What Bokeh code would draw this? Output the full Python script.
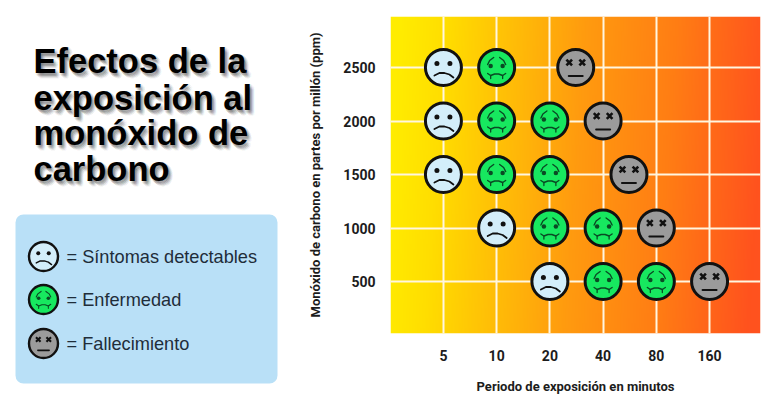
import numpy as np
from bokeh.embed import file_html
from bokeh.layouts import row
from bokeh.models import BoxAnnotation, FixedTicker
from bokeh.plotting import figure
from bokeh.resources import INLINE
from bokeh.core.properties import value

# ---------- data ----------
title_lines = ["Efectos de la", "exposición al", "monóxido de", "carbono"]
legend_labels = ["= Síntomas detectables", "= Enfermedad", "= Fallecimiento"]
x_ticks = [5, 10, 20, 40, 80, 160]
y_ticks = [500, 1000, 1500, 2000, 2500]
x_title = "Periodo de exposición en minutos"
y_title = "Monóxido de carbono en partes por millón (ppm)"

sad_minutes = [5, 5, 5, 10, 20]
sad_ppm = [2500, 2000, 1500, 1000, 500]
sick_minutes = [10, 10, 20, 10, 20, 20, 40, 40, 80]
sick_ppm = [2500, 2000, 2000, 1500, 1500, 1000, 1000, 500, 500]
dead_minutes = [28, 40, 56, 80, 160]
dead_ppm = [2500, 2000, 1500, 1000, 500]

SAD, SICK, DEAD = "#d3eefa", "#17e85f", "#9b9b9b"
INK = "#111111"
TICK_FONT = "Roboto"


def draw_faces(fig, xs, ys, kind, mapx, mapy, size=36.0):
    """Draw faces centred on data points; feature offsets are screen pixels."""
    k = size / 36.0
    fill = {"sad": SAD, "sick": SICK, "dead": DEAD}[kind]
    fig.scatter(xs, ys, size=size, fill_color=fill, line_color=INK, line_width=3 * k)

    def pts(dx, dy):
        return [mapx(x, dx * k) for x in xs], [mapy(y, dy * k) for y in ys]

    def curve(points, width, color=INK):
        mx, my = [], []
        for x, y in zip(xs, ys):
            mx.append([mapx(x, a * k) for a, _ in points])
            my.append([mapy(y, b * k) for _, b in points])
        fig.multi_line(mx, my, line_color=color, line_width=width * k, line_cap="round")

    if kind == "sad":
        for dx in (-6.5, 6.5):
            a, b = pts(dx, -4)
            fig.scatter(a, b, size=5 * k, fill_color=INK, line_color=None)
        curve([(-9, 8), (-4, 5.5), (1, 5.5), (6, 7), (10, 10)], 1.8)
    elif kind == "sick":
        c = "#0a4a24"
        for dx in (-6, 6):
            a, b = pts(dx, -1.5)
            fig.scatter(a, b, size=4.5 * k, fill_color=c, line_color=None)
        curve([(-9, -3), (-7, -7), (-3, -10)], 1.4, c)
        curve([(9, -3), (7, -7), (3, -10)], 1.4, c)
        curve([(-9, 6), (-6, 8), (-2, 6.5), (2, 6.5), (6, 8), (9, 6)], 1.4, c)
        curve([(-6, 8), (-6, 11)], 1.3, c)
        curve([(6, 8), (6, 11)], 1.3, c)
    else:
        for dx in (-6.5, 6.5):
            a, b = pts(dx, -5)
            fig.scatter(a, b, size=8 * k, marker="x", line_color=INK, line_width=2.6 * k)
        curve([(-7, 8.5), (7, 8.5)], 2.0)


# ---------- left panel: coordinates are px in the 780x400 picture ----------
left = figure(width=290, height=396, x_range=(0, 290), y_range=(396, 0),
              output_backend="svg", toolbar_location=None,
              min_border=0, outline_line_color=None, frame_align=False)
left.axis.visible = False
left.grid.visible = False

title_y = [60, 97, 132, 168]
title_x = [33] * 4
for off, alpha in ((6, .02), (5, .03), (4, .045), (3, .06), (2, .06)):
    for dx, dy in ((off, off), (off - 2, off), (off, off - 2), (off - 1, off + 1)):
        left.text(title_x, title_y, text=title_lines, x_offset=dx, y_offset=dy,
                  text_font=value("Liberation Sans"), text_font_style="bold",
                  text_font_size="34.5px", text_color="#222222", text_alpha=alpha,
                  text_baseline="alphabetic")
left.text(title_x, title_y, text=title_lines,
          text_font=value("Liberation Sans"), text_font_style="bold",
          text_font_size="34.5px", text_color="#000000", text_baseline="alphabetic")

left.add_layout(BoxAnnotation(left=15, right=277, top=214, bottom=383,
                              fill_color="#b9e0f7", fill_alpha=1,
                              line_color=None, border_radius=8, level="underlay"))

px_x = lambda v, d: v + d
px_y = lambda v, d: v + d
legend_y = [256, 299, 343]
for ly, kind in zip(legend_y, ("sad", "sick", "dead")):
    draw_faces(left, [43], [ly], kind, px_x, px_y, size=29)
left.text([66] * 3, legend_y, text=legend_labels,
          text_font=value("Liberation Sans"), text_font_size="18.2px",
          text_color="#1f2d3a", text_baseline="middle")

# ---------- chart ----------
PX_PER_OCTAVE = 53.3
PX_PER_PPM = 53.5 / 500
p = figure(width=480, height=396, x_axis_type="log",
           x_range=(5 * 2 ** (-53 / PX_PER_OCTAVE), 160 * 2 ** (51 / PX_PER_OCTAVE)),
           y_range=(500 - 52 / PX_PER_PPM, 2500 + 51 / PX_PER_PPM),
           output_backend="svg", toolbar_location=None,
           min_border_left=100, min_border_right=10, min_border_top=16, min_border_bottom=63,
           outline_line_color=None, frame_align=False)

# background gradient
ny, nx = 64, 256
u, v = np.meshgrid(np.linspace(0, 1, nx), np.linspace(0, 1, ny))  # v=0 at bottom
t = np.clip(u + 0.06 * (0.5 - v), 0, 1)
stops_t = [0.0, 0.12, 0.5, 0.75, 1.0]
stops_r = [255, 255, 255, 255, 255]
stops_g = [236, 222, 155, 125, 82]
stops_b = [0, 0, 15, 20, 30]
img = np.zeros((ny, nx), dtype=np.uint32)
view = img.view(np.uint8).reshape((ny, nx, 4))
view[..., 0] = np.interp(t, stops_t, stops_r)
view[..., 1] = np.interp(t, stops_t, stops_g)
view[..., 2] = np.interp(t, stops_t, stops_b)
view[..., 3] = 255
x0, x1 = p.x_range.start, p.x_range.end
p.image_rgba(image=[img], x=x0, y=p.y_range.start, dw=x1 - x0,
             dh=p.y_range.end - p.y_range.start, level="image")

p.xaxis.ticker = FixedTicker(ticks=x_ticks)
p.yaxis.ticker = FixedTicker(ticks=y_ticks)
p.xaxis.major_label_overrides = {t_: str(t_) for t_ in x_ticks}
p.xgrid.ticker = FixedTicker(ticks=x_ticks)
p.ygrid.ticker = FixedTicker(ticks=y_ticks)
p.grid.grid_line_color = "#fff6e0"
p.grid.grid_line_width = 2
p.grid.level = "underlay"

for ax in (p.xaxis[0], p.yaxis[0]):
    ax.axis_line_color = None
    ax.major_tick_line_color = None
    ax.minor_tick_line_color = None
    ax.major_label_text_font = TICK_FONT
    ax.major_label_text_font_size = "14px"
    ax.major_label_text_font_style = "bold"
    ax.major_label_text_color = "#1c1c1c"
    ax.axis_label_text_font = TICK_FONT
    ax.axis_label_text_font_style = "bold"
    ax.axis_label_text_font_size = "13px"
    ax.axis_label_text_color = "#1c1c1c"

p.xaxis.axis_label = x_title
p.yaxis.axis_label = y_title
p.xaxis.major_label_standoff = 10
p.xaxis.axis_label_standoff = 15
p.yaxis.major_label_standoff = 9
p.yaxis.axis_label_standoff = 17

fx = lambda val, d: val * 2 ** (d / PX_PER_OCTAVE)
fy = lambda val, d: val - d / PX_PER_PPM
draw_faces(p, sad_minutes, sad_ppm, "sad", fx, fy)
draw_faces(p, sick_minutes, sick_ppm, "sick", fx, fy)
draw_faces(p, dead_minutes, dead_ppm, "dead", fx, fy)

layout = row(left, p, spacing=0)
open("out.html", "w").write(file_html(layout, INLINE))
